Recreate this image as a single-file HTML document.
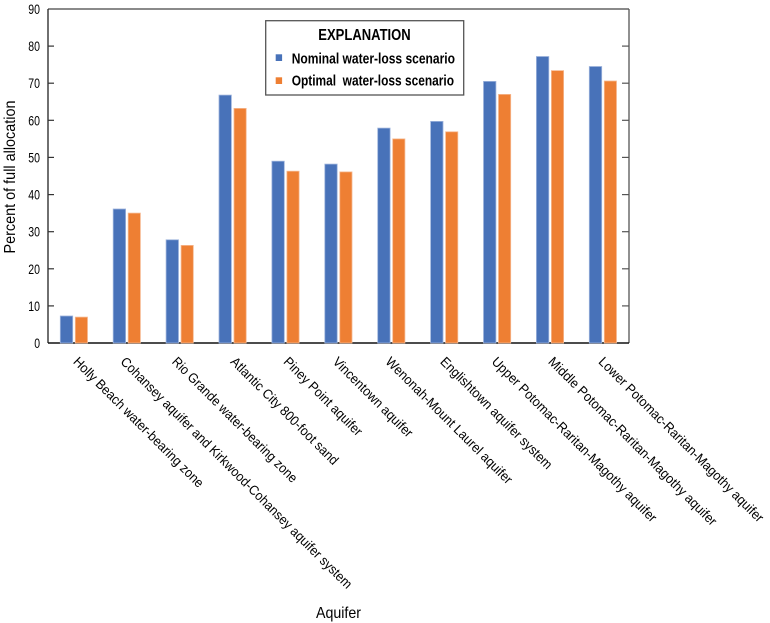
<!DOCTYPE html>
<html>
<head>
<meta charset="utf-8">
<style>
  html, body { margin: 0; padding: 0; background: #ffffff; }
  svg { display: block; }
  text { font-family: "Liberation Sans Narrow", "Liberation Sans", sans-serif; fill: #000000; }
</style>
</head>
<body>
<svg width="770" height="623" viewBox="0 0 770 623" xmlns="http://www.w3.org/2000/svg">
  <rect x="0" y="0" width="770" height="623" fill="#ffffff"/>

  <!-- plot frame -->
  <line x1="48" y1="9" x2="629" y2="9" stroke="#444" stroke-width="1.3"/>
  <line x1="629" y1="9" x2="629" y2="343" stroke="#555" stroke-width="1.3"/>
  <line x1="48" y1="9" x2="48" y2="343" stroke="#222" stroke-width="1.3"/>
  <line x1="48" y1="343" x2="629" y2="343" stroke="#111" stroke-width="1.5"/>

  <!-- left ticks (inward) -->
  <g stroke="#333" stroke-width="1.2">
    <line x1="48" y1="305.9" x2="54" y2="305.9"/>
    <line x1="48" y1="268.8" x2="54" y2="268.8"/>
    <line x1="48" y1="231.7" x2="54" y2="231.7"/>
    <line x1="48" y1="194.6" x2="54" y2="194.6"/>
    <line x1="48" y1="157.4" x2="54" y2="157.4"/>
    <line x1="48" y1="120.3" x2="54" y2="120.3"/>
    <line x1="48" y1="83.2" x2="54" y2="83.2"/>
    <line x1="48" y1="46.1" x2="54" y2="46.1"/>
  </g>
  <!-- right ticks (inward) -->
  <g stroke="#555" stroke-width="1.2">
    <line x1="622" y1="305.9" x2="629" y2="305.9"/>
    <line x1="622" y1="268.8" x2="629" y2="268.8"/>
    <line x1="622" y1="231.7" x2="629" y2="231.7"/>
    <line x1="622" y1="194.6" x2="629" y2="194.6"/>
    <line x1="622" y1="157.4" x2="629" y2="157.4"/>
    <line x1="622" y1="120.3" x2="629" y2="120.3"/>
    <line x1="622" y1="83.2" x2="629" y2="83.2"/>
    <line x1="622" y1="46.1" x2="629" y2="46.1"/>
  </g>

  <!-- y tick labels -->
  <g font-size="13.5" text-anchor="end">
    <text x="40" y="348" textLength="5.8" lengthAdjust="spacingAndGlyphs">0</text>
    <text x="40" y="310.9" textLength="11.7" lengthAdjust="spacingAndGlyphs">10</text>
    <text x="40" y="273.8" textLength="11.7" lengthAdjust="spacingAndGlyphs">20</text>
    <text x="40" y="236.7" textLength="11.7" lengthAdjust="spacingAndGlyphs">30</text>
    <text x="40" y="199.6" textLength="11.7" lengthAdjust="spacingAndGlyphs">40</text>
    <text x="40" y="162.4" textLength="11.7" lengthAdjust="spacingAndGlyphs">50</text>
    <text x="40" y="125.3" textLength="11.7" lengthAdjust="spacingAndGlyphs">60</text>
    <text x="40" y="88.2" textLength="11.7" lengthAdjust="spacingAndGlyphs">70</text>
    <text x="40" y="51.1" textLength="11.7" lengthAdjust="spacingAndGlyphs">80</text>
    <text x="40" y="14" textLength="11.7" lengthAdjust="spacingAndGlyphs">90</text>
  </g>

  <!-- y axis title -->
  <text transform="translate(14.8,177) rotate(-90)" font-size="15.5" text-anchor="middle" textLength="153" lengthAdjust="spacingAndGlyphs">Percent of full allocation</text>

  <!-- bars: blue (nominal) -->
  <g fill="#4872b9" stroke="#9db3dc" stroke-width="0.8">
    <rect x="60.3" y="316.0" width="12.4" height="27.0"/>
    <rect x="113.2" y="209.0" width="12.4" height="134.0"/>
    <rect x="166.1" y="239.8" width="12.4" height="103.2"/>
    <rect x="219.0" y="95.1" width="12.4" height="247.9"/>
    <rect x="271.9" y="161.2" width="12.4" height="181.8"/>
    <rect x="324.8" y="164.1" width="12.4" height="178.9"/>
    <rect x="377.7" y="128.1" width="12.4" height="214.9"/>
    <rect x="430.6" y="121.4" width="12.4" height="221.6"/>
    <rect x="483.5" y="81.4" width="12.4" height="261.6"/>
    <rect x="536.4" y="56.5" width="12.4" height="286.5"/>
    <rect x="589.3" y="66.5" width="12.4" height="276.5"/>
  </g>
  <!-- bars: orange (optimal) -->
  <g fill="#ee7f33" stroke="#f6b890" stroke-width="0.8">
    <rect x="75.3" y="317.1" width="12.2" height="25.9"/>
    <rect x="128.2" y="213.1" width="12.2" height="129.9"/>
    <rect x="181.1" y="245.4" width="12.2" height="97.6"/>
    <rect x="234.0" y="108.4" width="12.2" height="234.6"/>
    <rect x="286.9" y="171.2" width="12.2" height="171.8"/>
    <rect x="339.8" y="171.9" width="12.2" height="171.1"/>
    <rect x="392.7" y="138.9" width="12.2" height="204.1"/>
    <rect x="445.6" y="131.8" width="12.2" height="211.2"/>
    <rect x="498.5" y="94.4" width="12.2" height="248.6"/>
    <rect x="551.4" y="70.6" width="12.2" height="272.4"/>
    <rect x="604.3" y="81.0" width="12.2" height="262.0"/>
  </g>

  <!-- x category labels (rotated 45°) -->
  <g font-size="13.5">
    <text transform="translate(72.5,362.5) rotate(45)" textLength="178" lengthAdjust="spacingAndGlyphs">Holly Beach water-bearing zone</text>
    <text transform="translate(119.8,362.5) rotate(45)" textLength="321" lengthAdjust="spacingAndGlyphs">Cohansey aquifer and Kirkwood-Cohansey aquifer system</text>
    <text transform="translate(171.2,362.5) rotate(45)" textLength="171" lengthAdjust="spacingAndGlyphs">Rio Grande water-bearing zone</text>
    <text transform="translate(229.8,362.5) rotate(45)" textLength="146" lengthAdjust="spacingAndGlyphs">Atlantic City 800-foot sand</text>
    <text transform="translate(282.8,362.5) rotate(45)" textLength="105" lengthAdjust="spacingAndGlyphs">Piney Point aquifer</text>
    <text transform="translate(332.0,362.5) rotate(45)" textLength="107" lengthAdjust="spacingAndGlyphs">Vincentown aquifer</text>
    <text transform="translate(384.8,362.5) rotate(45)" textLength="173" lengthAdjust="spacingAndGlyphs">Wenonah-Mount Laurel aquifer</text>
    <text transform="translate(439.5,362.5) rotate(45)" textLength="152" lengthAdjust="spacingAndGlyphs">Englishtown aquifer system</text>
    <text transform="translate(491.0,362.5) rotate(45)" textLength="227" lengthAdjust="spacingAndGlyphs">Upper Potomac-Raritan-Magothy aquifer</text>
    <text transform="translate(547.5,362.5) rotate(45)" textLength="232" lengthAdjust="spacingAndGlyphs">Middle Potomac-Raritan-Magothy aquifer</text>
    <text transform="translate(597.8,362.5) rotate(45)" textLength="227" lengthAdjust="spacingAndGlyphs">Lower Potomac-Raritan-Magothy aquifer</text>
  </g>

  <!-- x axis title -->
  <text x="316" y="618" font-size="16" textLength="45" lengthAdjust="spacingAndGlyphs">Aquifer</text>

  <!-- legend -->
  <rect x="265.7" y="20.7" width="198" height="74.3" fill="#ffffff" stroke="#555" stroke-width="1.3"/>
  <text x="318.3" y="40" font-size="15.5" font-weight="bold" textLength="92.4" lengthAdjust="spacingAndGlyphs">EXPLANATION</text>
  <rect x="275.7" y="54.3" width="6.4" height="6.7" fill="#4872b9"/>
  <text x="291.7" y="63.3" font-size="14.5" font-weight="bold" textLength="163.3" lengthAdjust="spacingAndGlyphs">Nominal water-loss scenario</text>
  <rect x="275.7" y="77.3" width="6.4" height="6.7" fill="#ee7f33"/>
  <text x="291.7" y="85.7" font-size="14.5" font-weight="bold" textLength="162.3" lengthAdjust="spacingAndGlyphs" xml:space="preserve">Optimal  water-loss scenario</text>
</svg>
</body>
</html>
